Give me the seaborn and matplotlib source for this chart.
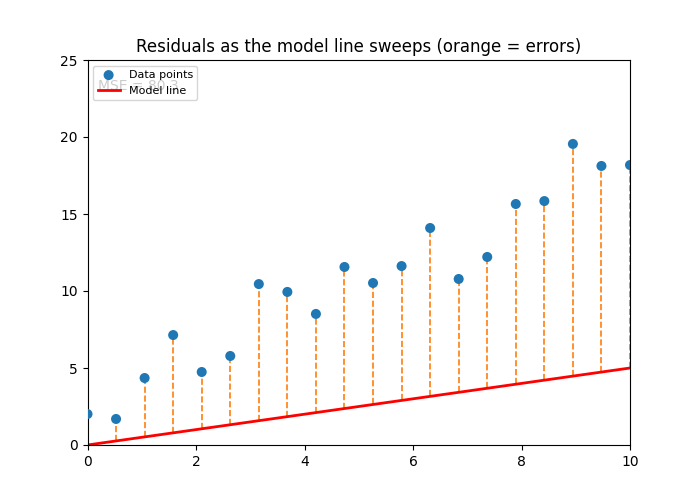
import numpy as np
import pandas as pd
import matplotlib
matplotlib.use('Agg')
import matplotlib.pyplot as plt
import seaborn as sns

# dados
x_vals = np.linspace(0, 10, 20)
y_vals = [2.01, 1.69, 4.35, 7.14, 4.74, 5.78, 10.45, 9.94, 8.51, 11.56,
          10.52, 11.62, 14.09, 10.78, 12.21, 15.65, 15.84, 19.55, 18.12, 18.18]
slope = 0.5
mse_label = 'MSE = 80.3'

df = pd.DataFrame({'x': x_vals, 'y': y_vals})
df['y_model'] = slope * df['x']

fig, ax = plt.subplots(figsize=(7, 5), dpi=100)

# residuos (linhas laranjas tracejadas)
ax.vlines(df['x'], df['y_model'], df['y'], colors='C1', linestyles='--', linewidth=1.2)

sns.scatterplot(data=df, x='x', y='y', ax=ax, color='C0', s=52,
                edgecolor='none', label='Data points', zorder=3)
sns.lineplot(data=df, x='x', y='y_model', ax=ax, color='red', linewidth=2,
             label='Model line')

ax.text(0.02, 0.95, mse_label, transform=ax.transAxes, va='top', fontsize=10)

ax.set_xlim(0, 10)
ax.set_ylim(0, 25)
ax.set_xlabel('')
ax.set_ylabel('')
ax.set_title('Residuals as the model line sweeps (orange = errors)')
ax.legend(loc='upper left', fontsize=8)

plt.savefig('out.png', dpi=100)
